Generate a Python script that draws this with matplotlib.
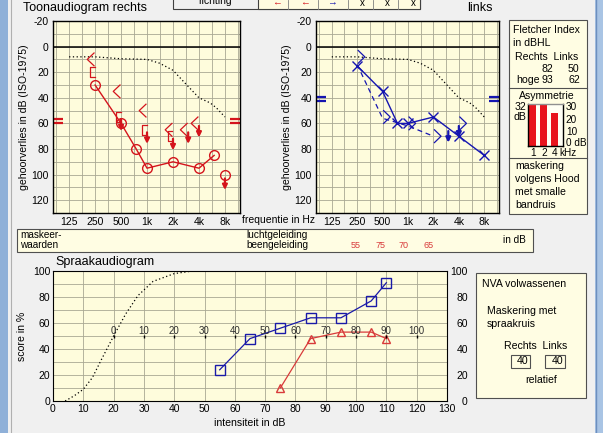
import numpy as np
import matplotlib
matplotlib.use("Agg")
import matplotlib.pyplot as plt
from matplotlib.patches import Rectangle

# ---- data ----
freq_labels = ["125", "250", "500", "1k", "2k", "4k", "8k"]

# reference (dotted) curve, same on both ears
ref_freq = [125, 250, 500, 1000, 1400, 2000, 2800, 4000, 5400, 6400, 8000]
ref_db = [8, 8, 9.5, 10, 13, 18.5, 29, 40, 44, 48, 55]

# right ear
r_ac_freq = [250, 500, 750, 1000, 2000, 4000, 6000]
r_ac_db = [30, 60, 80, 95, 90, 95, 85]
r_ac_nr_freq = [8000]
r_ac_nr_db = [100]
r_bc_freq = [250, 500, 1000, 2000, 3000, 4000]
r_bc_db = [10, 35, 50, 65, 65, 60]
r_bc_nr = [False, False, False, False, True, True]
r_bcm_freq = [250, 500, 1000, 2000]
r_bcm_db = [20, 55, 65, 70]
r_bcm_nr = [False, True, True, True]
r_mask_db = 58

# left ear
l_ac_freq = [250, 500, 750, 1000, 2000, 4000, 8000]
l_ac_db = [15, 35, 60, 60, 55, 70, 85]
l_bc_freq = [250, 500, 1000, 2000, 4000]
l_bc_db = [8, 55, 60, 70, 60]
l_bc_nr = [False, False, False, False, True]
l_bc_line_freq = [250, 500, 1000, 2000]
l_bc_line_db = [14, 56, 62, 70]
l_nr_freq = [3000]
l_nr_db = [66]
l_mask_db = 41

# side panel
fletcher_r, fletcher_l = 82, 50
hoge_r, hoge_l = 93, 62
asym_labels = ["1", "2", "4"]
asym_db = [32, 32, 25]
mask_values = ["55", "75", "70", "65"]

# speech audiogram
speech_ref_db = [4, 7, 10, 13, 16, 20, 24, 28, 33, 40, 46]
speech_ref_pct = [0, 4, 9, 18, 32, 50, 67, 81, 92, 98, 100]
speech_l_db = [55, 65, 75, 85, 95, 105, 110]
speech_l_pct = [24, 48, 56, 64, 64, 77, 91]
speech_r_db = [75, 85, 95, 105, 110]
speech_r_pct = [10, 48, 53, 53, 48]
rel_scale = [0, 10, 20, 30, 40, 50, 60, 70, 80, 90, 100]
rel_offset = 20

W, H = 603, 433
BG = "#fefcdc"
PANEL = "#fffde3"
GRID = "#a8a892"
RED = "#d4141c"
BLUE = "#1515b0"
SRED = "#d83a3a"
SBLUE = "#1a1aa8"

plt.rcParams["font.family"] = ["Liberation Sans", "DejaVu Sans"]
plt.rcParams["axes.unicode_minus"] = False
fig = plt.figure(figsize=(W / 100, H / 100), dpi=100, facecolor="#f0f0f0")


def ax_px(x0, y0, x1, y1):
    return fig.add_axes([x0 / W, 1 - y1 / H, (x1 - x0) / W, (y1 - y0) / H])


def ftext(x, y, s, **kw):
    kw.setdefault("fontsize", 7.6)
    kw.setdefault("va", "center")
    fig.text(x / W, 1 - y / H, s, **kw)


def frect(x0, y0, x1, y1, fc, ec, lw=0.8):
    fig.add_artist(Rectangle((x0 / W, 1 - y1 / H), (x1 - x0) / W, (y1 - y0) / H,
                             transform=fig.transFigure, facecolor=fc, edgecolor=ec,
                             lw=lw, zorder=-5))


def fline(x0, y0, x1, y1, color, lw=0.8):
    fig.add_artist(plt.Line2D([x0 / W, x1 / W], [1 - y0 / H, 1 - y1 / H],
                              transform=fig.transFigure, color=color, lw=lw, zorder=-4))


def oc(f):
    return np.log2(np.asarray(f, dtype=float) / 125.0)


def down_arrow(ax, x, y, color, length=9):
    ax.annotate("", xy=(x, y + length), xytext=(x, y),
                arrowprops=dict(arrowstyle="-|>", color=color, lw=1.6,
                                mutation_scale=7, shrinkA=0, shrinkB=0))


def setup_audiogram(ax):
    ax.set_facecolor(BG)
    ax.set_xlim(-0.62, 6.58)
    ax.set_ylim(130, -20)
    ax.set_xticks(range(7))
    ax.set_xticklabels(freq_labels)
    ax.set_xticks(np.arange(-0.5, 6.6, 0.5), minor=True)
    ax.set_yticks(range(-20, 121, 20))
    ax.set_yticks(range(-20, 131, 10), minor=True)
    ax.grid(True, which="both", color=GRID, lw=0.6)
    ax.set_axisbelow(True)
    ax.tick_params(which="both", length=0, labelsize=7.5, pad=3)
    ax.axhline(0, color="black", lw=1.1)
    for s in ax.spines.values():
        s.set_linewidth(1.0)
    ax.plot(oc(ref_freq), ref_db, color="black", lw=0.9, ls=(0, (1, 2)))
    ax.set_ylabel("gehoorverlies in dB (ISO-1975)", fontsize=7.6, labelpad=2)


# ---- right ear ----
axr = ax_px(53, 21, 240, 213)
setup_audiogram(axr)
axr.plot(oc(r_ac_freq), r_ac_db, color=RED, lw=1.0, marker="o", ms=7,
         mfc="none", mec=RED, mew=1.0)
axr.plot(oc(r_ac_nr_freq), r_ac_nr_db, ls="none", marker="o", ms=7,
         mfc="none", mec=RED, mew=1.0)
for f, v in zip(r_ac_nr_freq, r_ac_nr_db):
    down_arrow(axr, oc(f), v + 3, RED)
for f, v, nr in zip(r_bc_freq, r_bc_db, r_bc_nr):
    x = oc(f)
    axr.plot([x - 0.04, x - 0.3, x - 0.04], [v - 5, v, v + 5], color=RED, lw=0.9)
    if nr:
        down_arrow(axr, x, v + 2, RED)
for f, v, nr in zip(r_bcm_freq, r_bcm_db, r_bcm_nr):
    x = oc(f)
    axr.plot([x - 0.02, x - 0.2, x - 0.2, x - 0.02], [v - 4, v - 4, v + 4, v + 4],
             color=RED, lw=0.9)
    if nr:
        down_arrow(axr, x, v + 2, RED)
for yy in (r_mask_db - 1.5, r_mask_db + 1.5):
    axr.plot([-0.62, -0.22], [yy, yy], color=RED, lw=1.6, solid_capstyle="butt")
    axr.plot([6.18, 6.58], [yy, yy], color=RED, lw=1.6, solid_capstyle="butt")

# ---- left ear ----
axl = ax_px(316, 21, 499, 213)
setup_audiogram(axl)
axl.plot(oc(l_ac_freq), l_ac_db, color=BLUE, lw=1.0, marker="x", ms=7, mew=1.0)
axl.plot(oc(l_bc_line_freq), l_bc_line_db, color=BLUE, lw=0.9, ls=(0, (4, 3)))
for f, v, nr in zip(l_bc_freq, l_bc_db, l_bc_nr):
    x = oc(f)
    axl.plot([x + 0.04, x + 0.3, x + 0.04], [v - 5, v, v + 5], color=BLUE, lw=0.9)
    if nr:
        down_arrow(axl, x, v + 2, BLUE)
for f, v in zip(l_nr_freq, l_nr_db):
    down_arrow(axl, oc(f), v, BLUE)
for yy in (l_mask_db - 1.5, l_mask_db + 1.5):
    axl.plot([-0.62, -0.22], [yy, yy], color=BLUE, lw=1.6, solid_capstyle="butt")
    axl.plot([6.18, 6.58], [yy, yy], color=BLUE, lw=1.6, solid_capstyle="butt")

ftext(23, 8, "Toonaudiogram rechts", fontsize=9)
ftext(467, 8, "links", fontsize=9)
ftext(242, 220, "frequentie in Hz", fontsize=7.5)

# ---- header table (clipped at top) ----
frect(173, -4, 420, 9, "#f0f0f0", "#404040")
frect(258, -4, 420, 9, "#fffbe0", "#404040")
for xd in (288, 318, 348, 373, 398):
    fline(xd, 0, xd, 9, "#808080", 0.6)
ftext(215, 1.5, "richting", ha="center", fontsize=7.5)
ftext(277, 2, "←", ha="center", color=RED, fontsize=7)
ftext(305, 2, "←", ha="center", color=RED, fontsize=7)
ftext(332, 2, "→", ha="center", color=BLUE, fontsize=7)
for xx in (362, 387, 413):
    ftext(xx, 3, "x", ha="center", fontsize=7)

# ---- Fletcher / asymmetry panel ----
frect(509, 20, 587, 214, PANEL, "#505050")
fline(509, 88, 587, 88, "#505050")
fline(509, 158, 587, 158, "#505050")
ftext(513, 30, "Fletcher Index")
ftext(513, 43, "in dBHL")
ftext(515, 57, "Rechts  Links")
ftext(553, 69, str(fletcher_r), ha="right")
ftext(579, 69, str(fletcher_l), ha="right")
ftext(516, 80, "hoge")
ftext(553, 80, str(hoge_r), ha="right")
ftext(580, 80, str(hoge_l), ha="right")
ftext(547, 96, "Asymmetrie", ha="center")
ftext(526, 107, "32", ha="right")
ftext(526, 117, "dB", ha="right")
ftext(559, 153, "kHz", fontsize=7.2)
ftext(515, 166, "maskering")
ftext(515, 179, "volgens Hood")
ftext(515, 192, "met smalle")
ftext(515, 205, "bandruis")

axa = ax_px(528, 104, 563, 146)
axa.set_facecolor("#fffff4")
axa.bar(range(len(asym_db)), [v + 2.5 for v in asym_db], bottom=-2.5, width=0.64,
        color="#e8141c")
axa.set_xlim(-0.45, 2.75)
axa.set_ylim(-2.5, 32)
axa.set_xticks(range(len(asym_labels)))
axa.set_xticklabels(asym_labels)
axa.set_yticks([0.8, 10, 20, 30])
axa.set_yticklabels(["0 dB", "10", "20", "30"])
axa.yaxis.tick_right()
axa.tick_params(length=0, labelsize=7.2, pad=2)
axa.tick_params(axis="x", pad=1.5)
axa.spines["top"].set_color("#909090")
for s in axa.spines.values():
    s.set_linewidth(1.0)

# ---- masking strip ----
frect(17, 229, 533, 252, PANEL, "#505050")
ftext(20, 235, "maskeer-", fontsize=7.2)
ftext(20, 245, "waarden", fontsize=7.2)
ftext(246, 235, "luchtgeleiding", fontsize=7.2)
ftext(246, 245, "beengeleiding", fontsize=7.2)
for xx, s in zip((356, 381, 404, 429), mask_values):
    ftext(xx, 246, s, color=SRED, fontsize=6.5, ha="center")
ftext(503, 240, "in dB", fontsize=7.2)

# ---- speech audiogram ----
axs = ax_px(53, 271, 447, 401)
axs.set_facecolor(BG)
axs.set_xlim(0, 130)
axs.set_ylim(0, 100)
axs.set_xticks(range(0, 131, 10))
axs.set_yticks(range(0, 101, 20))
axs.set_yticks(range(0, 101, 10), minor=True)
axs.grid(True, which="both", color=GRID, lw=0.6)
axs.set_axisbelow(True)
axs.tick_params(which="both", length=0, labelsize=7.5, pad=2)
axs.plot(speech_ref_db, speech_ref_pct, color="black", lw=0.9, ls=(0, (1, 2)))
axs.plot(speech_l_db, speech_l_pct, color=SBLUE, lw=0.9, marker="s", ms=6.5,
         mfc="none", mec=SBLUE, mew=1.0)
axs.plot(speech_r_db, speech_r_pct, color=SRED, lw=0.9, marker="^", ms=6,
         mfc="none", mec=SRED, mew=1.0)
for r in rel_scale:
    axs.text(r + rel_offset, 54, str(r), ha="center", va="center", fontsize=7,
             color="#303030")
axs.vlines([r + rel_offset for r in rel_scale], 48.5, 51, color="black", lw=1.0)
axs.set_ylabel("score in %", fontsize=7.6, labelpad=4)
axs.set_xlabel("intensiteit in dB", fontsize=7.6, labelpad=3)

# right-hand score labels, right aligned a bit away from the frame
axs2 = axs.twinx()
axs2.set_ylim(0, 100)
axs2.set_yticks(range(0, 101, 20))
axs2.tick_params(length=0, labelsize=7.5, pad=15)
for lab in axs2.get_yticklabels():
    lab.set_horizontalalignment("right")
for s in axs2.spines.values():
    s.set_visible(False)

ftext(55, 262, "Spraakaudiogram", fontsize=9)

# ---- NVA box ----
frect(476, 273, 586, 398, PANEL, "#505050")
ftext(482, 284, "NVA volwassenen")
ftext(487, 311, "Maskering met")
ftext(487, 324, "spraakruis")
ftext(504, 346, "Rechts  Links")
frect(511, 355, 530, 368, PANEL, "#505050")
frect(545, 355, 565, 368, PANEL, "#505050")
ftext(528, 361.5, "40", ha="right")
ftext(563, 361.5, "40", ha="right")
ftext(525, 380, "relatief")

# ---- window borders ----
frect(0, 0, 8, H, "#8fb0d8", "none")
fline(11, 0, 11, H, "#b0b0b0", 0.8)
frect(595, 0, W, H, "#a9c4e4", "none")
fline(595.5, 0, 595.5, H, "#6d8fbf", 1.0)

fig.savefig("out.png", dpi=100, facecolor=fig.get_facecolor())
